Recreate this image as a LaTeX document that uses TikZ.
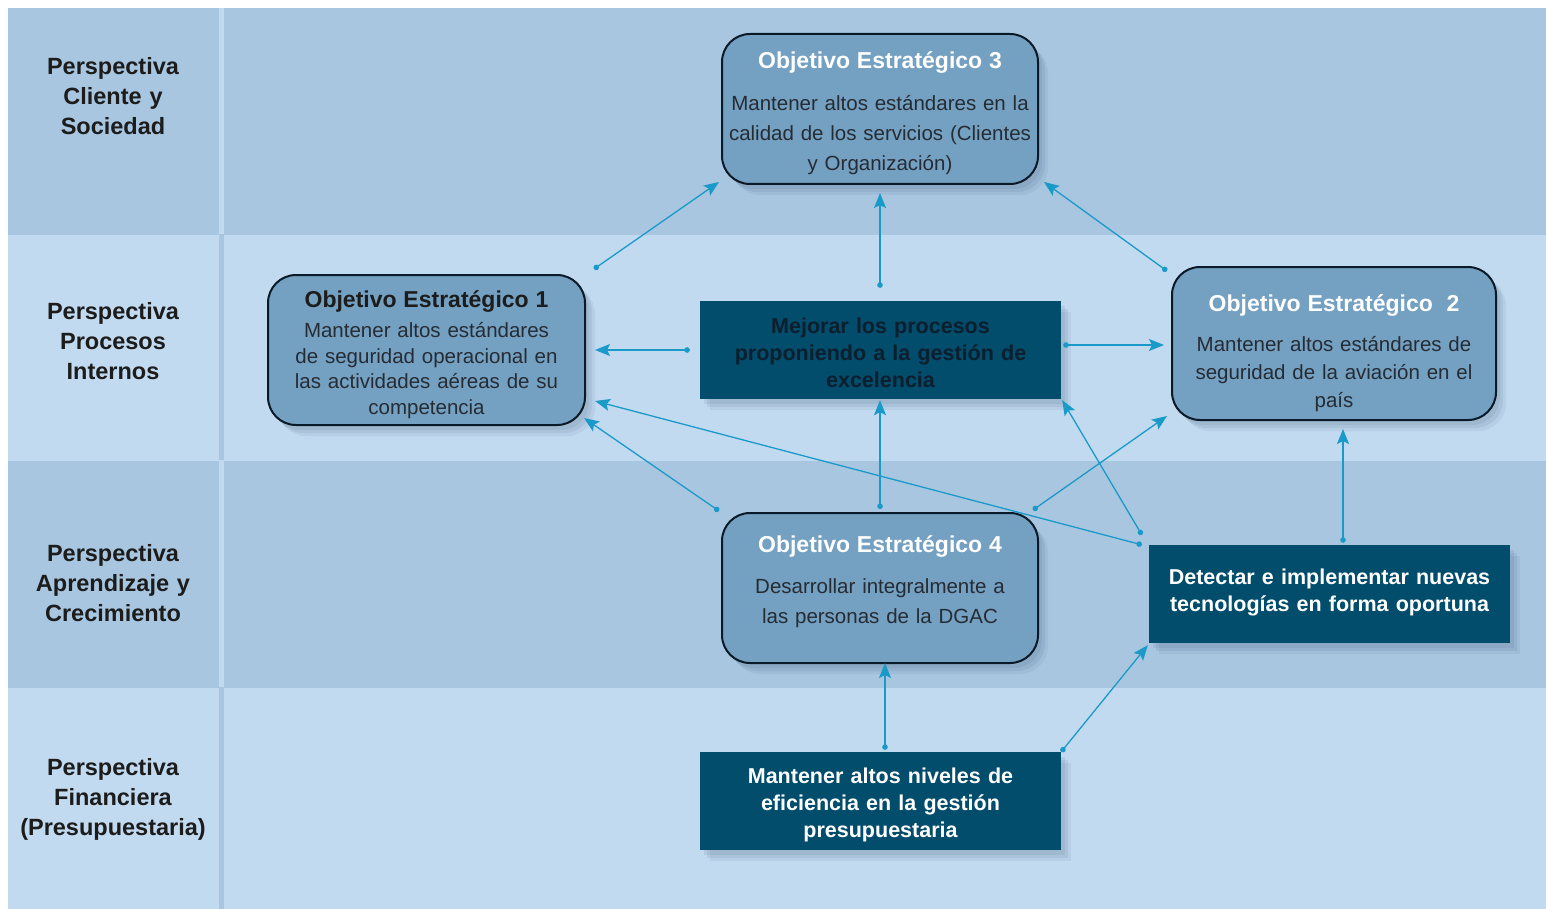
\documentclass[tikz,border=0pt]{standalone}
\usepackage{fontspec}
\setmainfont{Liberation Sans}
\usetikzlibrary{arrows.meta,calc,shadows}
\definecolor{banddark}{HTML}{A8C6E0}
\definecolor{bandlight}{HTML}{C2DAF0}
\definecolor{boxfill}{HTML}{74A0C2}
\definecolor{boxline}{HTML}{0B1A28}
\definecolor{navy}{HTML}{024C6C}
\definecolor{arrowc}{HTML}{1A9AC8}
\definecolor{textdark}{HTML}{1C1C1C}
\definecolor{bodytext}{HTML}{262C33}
\definecolor{navytext}{HTML}{0B1F2E}
\definecolor{shadowc}{HTML}{3A5A78}
\newcommand\oetitlefont{\fontsize{23}{28}\selectfont\bfseries}
\tikzset{
  softshadow/.style={
    general shadow={fill=shadowc, opacity=0.10, shadow xshift=4pt, shadow yshift=-5pt},
    general shadow={fill=shadowc, opacity=0.10, shadow xshift=7pt, shadow yshift=-8pt},
    general shadow={fill=shadowc, opacity=0.08, shadow xshift=10pt, shadow yshift=-11pt}},
  persp/.style={font=\fontsize{23.5}{30}\selectfont\bfseries, text=textdark, align=center, text width=205pt, inner sep=0pt},
  rbox/.style={draw=boxline, line width=2pt, fill=boxfill, rounded corners=28pt,
    align=center, text width=310pt, inner sep=3pt, text=bodytext, softshadow},
  navybox/.style={fill=navy, align=center, text width=355pt, inner sep=3pt,
    minimum width=361pt, minimum height=98pt,
    font=\fontsize{21.5}{27}\selectfont\bfseries, softshadow},
  conn/.style={draw=arrowc, line width=1.3pt, {Circle[length=5.5pt]}-{Stealth[length=15pt,width=12pt,inset=3pt]}}
}
\begin{document}
\begin{tikzpicture}[x=1pt,y=-1pt]
\useasboundingbox (0,0) rectangle (1546,909);
\fill[white] (0,0) rectangle (1546,909);
% bands
\fill[banddark] (8,8) rectangle (1546,235);
\fill[bandlight] (8,235) rectangle (1546,461);
\fill[banddark] (8,461) rectangle (1546,688);
\fill[bandlight] (8,688) rectangle (1546,909);
% separators
\fill[bandlight] (219,8) rectangle (223.5,234);
\fill[banddark] (219,235) rectangle (223.5,460);
\fill[bandlight] (219,461) rectangle (223.5,687);
\fill[banddark] (219,688) rectangle (223.5,909);
% perspective labels
\node[persp] (p1) at (113,96) {Perspectiva\\Cliente y\\Sociedad};
\node[persp] (p2) at (113,341) {Perspectiva\\Procesos\\Internos};
\node[persp] (p3) at (113,583) {Perspectiva\\Aprendizaje y\\Crecimiento};
\node[persp] (p4) at (113,799) {Perspectiva\\Financiera\\(Presupuestaria)};
% rounded objective boxes
\node[rbox, minimum width=316pt, minimum height=150pt, font=\fontsize{20.5}{30}\selectfont] (oe3) at (880,109)
  {{\oetitlefont\color{white}Objetivo Estratégico 3}\\[12pt]Mantener altos estándares en la\\calidad de los servicios (Clientes\\y Organización)\par\vspace{-8pt}};
\node[rbox, minimum width=317pt, minimum height=150pt, font=\fontsize{20.5}{25.5}\selectfont] (oe1) at (426.5,350)
  {{\oetitlefont\color{textdark}Objetivo Estratégico 1}\\[4.5pt]Mantener altos estándares\\de seguridad operacional en\\las actividades aéreas de su\\competencia\par\vspace{-9pt}};
\node[rbox, minimum width=324pt, minimum height=153pt, font=\fontsize{20.5}{28}\selectfont] (oe2) at (1334,343.5)
  {{\oetitlefont\color{white}Objetivo Estratégico\ \ 2}\\[12pt]Mantener altos estándares de\\seguridad de la aviación en el\\país\par\vspace{-19pt}};
\node[rbox, minimum width=316pt, minimum height=150pt, font=\fontsize{20.5}{30}\selectfont] (oe4) at (880,588)
  {{\oetitlefont\color{white}Objetivo Estratégico 4}\\[11pt]Desarrollar integralmente a\\las personas de la DGAC\par\vspace{12pt}};
% navy boxes
\node[navybox, text=navytext] (mej) at (880.5,350) {Mejorar los procesos\\proponiendo a la gestión de\\excelencia\par\vspace{-6pt}};
\node[navybox, text=white] (det) at (1329.5,594) {Detectar e implementar nuevas\\tecnologías en forma oportuna\par\vspace{4pt}};
\node[navybox, text=white] (man) at (880.5,801) {Mantener altos niveles de\\eficiencia en la gestión\\presupuestaria\par\vspace{-8pt}};
% connectors
\draw[conn] ($(oe1.north east)+(8,-5)$) -- ($(oe3.south west)+(-2,-3)$);
\draw[conn] ($(mej.north)+(-0.5,-13)$) -- ($(oe3.south)+(0,8)$);
\draw[conn] ($(oe2.north west)+(-4,5)$) -- ($(oe3.south east)+(5,-3)$);
\draw[conn] ($(mej.west)+(-10,0)$) -- ($(oe1.east)+(9,0)$);
\draw[conn] ($(mej.east)+(2,-5)$) -- ($(oe2.west)+(-7,1.5)$);
\draw[conn] ($(oe4.north west)+(-2,-1)$) -- ($(oe1.south east)+(-2,-8)$);
\draw[conn] ($(oe4.north)+(0,-3)$) -- ($(mej.south)+(-0.5,1)$);
\draw[conn] ($(det.north west)+(-7,0)$) -- ($(oe1.south east)+(9,-25)$);
\draw[conn] ($(det.north west)+(-7,-10)$) -- ($(mej.south east)+(1,1)$);
\draw[conn] ($(oe4.north east)+(-6,-2)$) -- ($(oe2.south west)+(-4,-5)$);
\draw[conn] ($(det.north)+(13.5,-2)$) -- ($(oe2.south)+(9,8)$);
\draw[conn] ($(man.north)+(4.5,-2)$) -- ($(oe4.south)+(5,-1)$);
\draw[conn] (man.north east) -- ($(det.south west)+(-1,2)$);
\end{tikzpicture}
\end{document}
